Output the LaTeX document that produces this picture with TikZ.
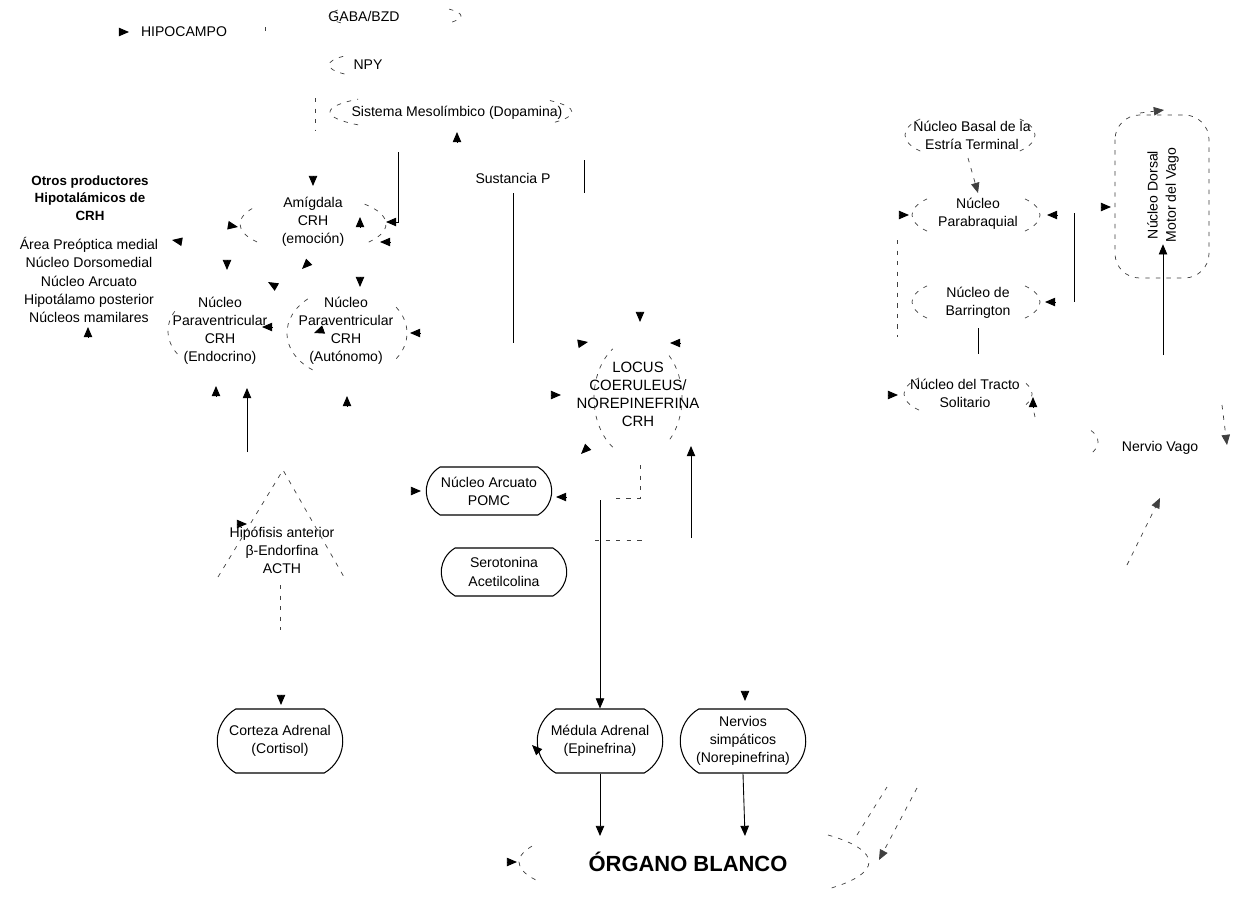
\documentclass[tikz,border=0pt]{standalone}
\usepackage{fontspec}
\setmainfont{Liberation Sans}
\usetikzlibrary{arrows.meta,shapes.misc,calc}
\newcommand\tipat[3]{\draw[arr] ($(#1,#2)+(#3+180:5.5pt)$) -- (#1,#2);}
\newcommand\larc[5]{\draw[ghost] (#1,#2) ++(180-#5:#3 and #4) arc[start angle=180-#5,end angle=180+#5,x radius=#3,y radius=#4];}
\newcommand\rarc[5]{\draw[ghost] (#1,#2) ++(-#5:#3 and #4) arc[start angle=-#5,end angle=#5,x radius=#3,y radius=#4];}
\begin{document}
\begin{tikzpicture}[x=0.02cm,y=-0.02cm,
  every node/.style={font=\fontsize{8}{10.3}\selectfont,align=center,inner sep=1pt},
  arr/.style={-{Triangle[length=5.8pt,width=4.8pt]},line width=0.5pt},
  ln/.style={line width=0.5pt},
  ghost/.style={draw=black!75,line width=0.4pt,dash pattern=on 2.5pt off 3.5pt},
  gline/.style={ghost},
  garr/.style={ghost,-{Triangle[length=5.8pt,width=4.8pt]}},
  rbox/.style={draw,line width=0.6pt,rounded rectangle,rounded rectangle arc length=120,minimum width=2.58cm,minimum height=1.28cm},
  sbox/.style={rbox,minimum height=0.96cm}]
\fill[white] (0,0) rectangle (1245,903);
\useasboundingbox (0,0) rectangle (1245,903);

% ---------- text nodes ----------
\node (hipo) at (184,32) {HIPOCAMPO};
\node (gaba) at (364,16) {GABA/BZD};
\node (npy) at (368,65) {NPY};
\node (meso) at (457,113) {Sistema Mesolímbico (Dopamina)};
\node (sustp) at (513,178) {Sustancia P};
\node[font=\fontsize{7.6}{10}\selectfont\bfseries] (otros) at (90,198) {Otros productores\\Hipotalámicos de\\CRH};
\node (areas) at (89,280) {Área Preóptica medial\\Núcleo Dorsomedial\\Núcleo Arcuato\\Hipotálamo posterior\\Núcleos mamilares};
\node (amig) at (313,222) {Amígdala\\CRH\\(emoción)};
\node (pvne) at (220,331) {Núcleo\\Paraventricular\\CRH\\(Endocrino)};
\node (pvna) at (346,331) {Núcleo\\Paraventricular\\CRH\\(Autónomo)};
\node[font=\fontsize{8.5}{10.3}\selectfont] (locus) at (638,394) {LOCUS\\COERULEUS/\\NOREPINEFRINA\\CRH};
\node (hipof) at (282,550) {Hipófisis anterior\\β-Endorfina\\ACTH};
\node[sbox] (arcpomc) at (489,491) {Núcleo Arcuato\\POMC};
\node[sbox] (sero) at (504,572) {Serotonina\\Acetilcolina};
\node[rbox] (corteza) at (280,741) {Corteza Adrenal\\(Cortisol)};
\node[rbox] (medula) at (600,741) {Médula Adrenal\\(Epinefrina)};
\node[rbox] (nervios) at (743,741) {Nervios\\simpáticos\\(Norepinefrina)};
\node[font=\fontsize{12.5}{15}\selectfont\bfseries] (organo) at (688,862) {ÓRGANO BLANCO};
\node (basal) at (972,135) {Núcleo Basal de la\\Estría Terminal};
\node (parab) at (978,214) {Núcleo\\Parabraquial};
\node (barr) at (978,303) {Núcleo de\\Barrington};
\node (nts) at (965,393) {Núcleo del Tracto\\Solitario};
\node[rotate=90] (dmv) at (1163,195) {Núcleo Dorsal\\Motor del Vago};
\node (vago) at (1160,448) {Nervio Vago};

% ---------- faint outlines ----------
\larc{395}{16}{66}{12}{35} \rarc{395}{16}{66}{12}{35}
\draw[ghost] (265,27) -- (265,37);
\larc{395}{65}{66}{14}{40}
\larc{450}{112}{120}{20}{40} \rarc{450}{112}{122}{20}{35}
\draw[gline] (315,98) -- (315,130);
\larc{313}{224}{73}{28}{40} \rarc{313}{224}{73}{28}{45}
\larc{220}{331}{52}{40}{35}
\larc{347}{333}{60}{45}{55} \rarc{347}{333}{60}{45}{35}
\larc{638}{398}{44}{60}{55} \rarc{638}{398}{44}{60}{45}
\draw[ghost] (218,577) -- (283,470) -- (344,577);
\larc{970}{135}{65}{25}{40} \rarc{970}{135}{65}{25}{40}
\larc{976}{215}{64}{25}{40} \rarc{976}{215}{64}{25}{40}
\larc{976}{302}{64}{25}{40} \rarc{976}{302}{64}{25}{40}
\larc{968}{394}{64}{25}{40} \rarc{968}{394}{64}{25}{25}
\draw[ghost,rounded corners=14pt] (1115,115) rectangle (1209,278);
\rarc{1060}{442}{38}{20}{35}
\larc{694}{862}{175}{42}{25} \rarc{694}{862}{175}{42}{40}

% ---------- connectors ----------
\coordinate (m1) at (398,152);
\draw[arr] (m1) -- (398,222) -- (386,222);
\draw[ln] (584,160) -- (584,193);
\draw[ln] (513,193) -- (513,343);
\coordinate (h1) at (247,452);
\draw[arr] (h1) -- (247,388);
\draw[ghost] (280,585) -- (280,630);
\coordinate (l1) at (691,538);
\draw[arr] (l1) -- (691,446);
\draw[ghost] (640,465) -- (640,498) -- (615,498);
\draw[ghost] (595,540) -- (646,540);
\draw[arr] (600,500) -- (medula.north);
\draw[arr] (medula.south) -- (600,836);
\draw[arr] (nervios.south) -- (745,836);
\draw[ghost] (857,835) -- (887,787);
\draw[garr] (917,788) -- (879,860);
\draw[ln] (1074,213) -- (1074,302);
\draw[ln] (978,328) -- (978,354);
\draw[ghost] (897,240) -- (897,337);
\draw[garr] (968,158) -- (978,193);
\draw[garr] (1140,113) -- (1164,110);
\draw[arr] (1163,355) -- (dmv.west);
\draw[garr] (1222,405) -- (1227,445);
\draw[garr] (1127,565) -- (1160,498);
\draw[ghost] (1035,417) -- (1033,408);

% ---------- free arrow heads ----------
\tipat{129}{32}{0}
\tipat{457}{132}{90}
\tipat{313}{186}{270}
\tipat{238}{227}{-10}
\tipat{360}{217}{90}
\tipat{380}{242}{180}
\tipat{227}{270}{270}
\tipat{302}{269}{225}
\tipat{268}{282}{150}
\tipat{360}{287}{270}
\tipat{172}{240}{170}
\tipat{88}{327}{90}
\tipat{262}{327}{180}
\tipat{314}{333}{200}
\tipat{410}{333}{180}
\tipat{216}{386}{90}
\tipat{347}{396}{90}
\tipat{640}{322}{270}
\tipat{588}{342}{10}
\tipat{561}{395}{0}
\tipat{670}{343}{180}
\tipat{581}{454}{225}
\tipat{421}{491}{0}
\tipat{556}{497}{180}
\tipat{247}{524}{0}
\tipat{281}{705}{270}
\tipat{745}{701}{270}
\tipat{532}{745}{135}
\tipat{517}{862}{0}
\tipat{909}{215}{0}
\tipat{1047}{215}{180}
\tipat{1045}{302}{180}
\tipat{898}{395}{0}
\tipat{1033}{397}{90}
\tipat{1111}{207}{0}
\end{tikzpicture}
\end{document}
